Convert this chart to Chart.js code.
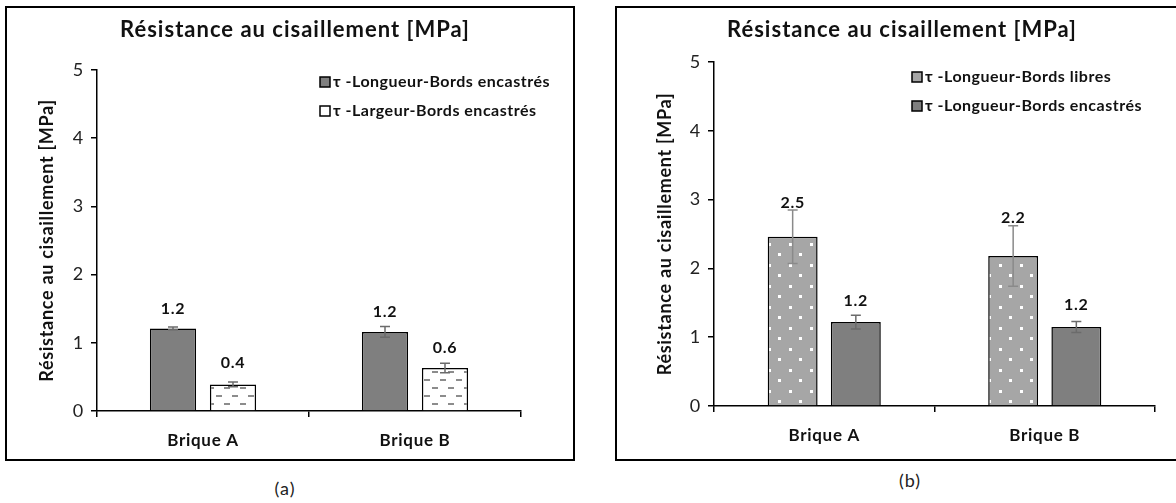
<!DOCTYPE html>
<html>
<head>
<meta charset="utf-8">
<script src="https://cdn.jsdelivr.net/npm/chart.js@4.4.1/dist/chart.umd.min.js"></script>
<style>
  html, body { margin: 0; padding: 0; background: #fff; width: 1176px; height: 503px; overflow: hidden; position: relative; }
  .box { position: absolute; border: 2px solid #000; }
  #boxA { left: 5px; top: 6px; width: 566px; height: 451px; }
  #boxB { left: 615px; top: 6px; width: 565px; height: 451px; }
  .cap { position: absolute; font: 18px Lato, sans-serif; color: #222; letter-spacing: 1px; transform: translate(-50%, -50%); }
</style>
</head>
<body>
<div class="box" id="boxA"><canvas id="chartA" width="566" height="451"></canvas></div>
<div class="box" id="boxB"><canvas id="chartB" width="565" height="451"></canvas></div>
<div class="cap" style="left:285px; top:488px;">(a)</div>
<div class="cap" style="left:910px; top:480px;">(b)</div>

<script>
// categories and tick labels
const categories = ["Brique A", "Brique B"];
const yTicks = [0, 1, 2, 3, 4, 5];

// chart (a)
const aLongEncastre = [1.21, 1.16];
const aLongEncastreErr = [0.02, 0.08];
const aLongEncastreLbl = ["1.2", "1.2"];
const aLargEncastre = [0.39, 0.63];
const aLargEncastreErr = [0.035, 0.07];
const aLargEncastreLbl = ["0.4", "0.6"];

// chart (b)
const bLongLibre = [2.46, 2.18];
const bLongLibreErr = [0.39, 0.44];
const bLongLibreLbl = ["2.5", "2.2"];
const bLongEncastre = [1.22, 1.15];
const bLongEncastreErr = [0.1, 0.08];
const bLongEncastreLbl = ["1.2", "1.2"];

const FONT = "Lato, 'Open Sans', sans-serif";
const DARK = "#7f7f7f";
const LIGHT = "#a6a6a6";

function dashPattern() {
  const c = document.createElement("canvas");
  c.width = 16; c.height = 16;
  const g = c.getContext("2d");
  g.fillStyle = "#fff"; g.fillRect(0, 0, 16, 16);
  g.fillStyle = "#8c8c8c";
  g.fillRect(1, 3, 6, 2);
  g.fillRect(9, 11, 6, 2);
  return g.createPattern(c, "repeat");
}

function dotPattern() {
  const c = document.createElement("canvas");
  c.width = 21; c.height = 21;
  const g = c.getContext("2d");
  g.fillStyle = LIGHT; g.fillRect(0, 0, 21, 21);
  g.fillStyle = "#fff";
  g.fillRect(4, 4, 3, 3);
  g.fillRect(14, 14, 3, 3);
  return g.createPattern(c, "repeat");
}

// a bit of letter spacing so Lato runs as wide as the original font
const spacing = {
  id: "spacing",
  beforeDraw(chart) { chart.ctx.letterSpacing = "0.7px"; },
  afterDraw(chart) { chart.ctx.letterSpacing = "0px"; }
};

// error bars + value labels drawn on top of the bars
const barExtras = {
  id: "barExtras",
  afterDatasetsDraw(chart) {
    const ctx = chart.ctx;
    const y = chart.scales.y;
    chart.data.datasets.forEach((ds, i) => {
      const meta = chart.getDatasetMeta(i);
      meta.data.forEach((bar, j) => {
        const v = ds.data[j], e = ds.errors[j];
        const yt = y.getPixelForValue(v + e), yb = y.getPixelForValue(v - e);
        ctx.save();
        ctx.strokeStyle = ds.errorColor;
        ctx.lineWidth = 1.5;
        ctx.beginPath();
        ctx.moveTo(bar.x, yt); ctx.lineTo(bar.x, yb);
        ctx.moveTo(bar.x - 5, yt); ctx.lineTo(bar.x + 5, yt);
        ctx.moveTo(bar.x - 5, yb); ctx.lineTo(bar.x + 5, yb);
        ctx.stroke();
        ctx.fillStyle = "#111";
        ctx.font = "bold 16px " + FONT;
        ctx.textAlign = "center";
        ctx.textBaseline = "middle";
        ctx.fillText(ds.valueLabels[j], bar.x, bar.y - ds.labelLift[j]);
        ctx.restore();
      });
    });
  }
};

// title and legend
const deco = {
  id: "deco",
  afterDraw(chart, args, o) {
    const ctx = chart.ctx;
    ctx.save();
    ctx.fillStyle = "#111";
    ctx.font = "bold 22px " + FONT;
    ctx.letterSpacing = "1px";
    ctx.textAlign = "center";
    ctx.textBaseline = "middle";
    ctx.fillText(o.title, o.titleX, o.titleY);
    ctx.font = "bold 16px " + FONT;
    ctx.letterSpacing = "0.5px";
    ctx.textAlign = "left";
    chart.data.datasets.forEach((ds, i) => {
      const ly = o.legendY + i * o.legendGap;
      ctx.fillStyle = ds.legendFill;
      ctx.fillRect(o.legendX, ly - 5, 10, 10);
      ctx.strokeStyle = "#000";
      ctx.lineWidth = 1.5;
      ctx.strokeRect(o.legendX, ly - 5, 10, 10);
      ctx.fillStyle = "#111";
      ctx.fillText(ds.label, o.legendX + 13, ly);
    });
    ctx.restore();
  }
};

function makeChart(id, datasets, geo) {
  return new Chart(document.getElementById(id), {
    type: "bar",
    data: { labels: categories, datasets: datasets },
    plugins: [spacing, barExtras, deco],
    options: {
      responsive: false,
      animation: false,
      events: [],
      layout: { padding: { top: geo.top, right: geo.right, left: 0, bottom: 0 } },
      datasets: { bar: { categoryPercentage: geo.catPct, barPercentage: geo.barPct } },
      scales: {
        x: {
          grid: { display: true, offset: true, drawOnChartArea: false, tickLength: 6, color: "#000", lineWidth: 1.5 },
          border: { color: "#000", width: 1.5 },
          ticks: { font: { family: FONT, size: 17, weight: "bold" }, color: "#111", padding: geo.xPad },
          afterFit(s) { s.height = geo.xH; }
        },
        y: {
          min: 0, max: 5,
          afterBuildTicks(s) { s.ticks = yTicks.map(v => ({ value: v })); },
          grid: { display: true, drawOnChartArea: false, tickLength: 6, color: "#000", lineWidth: 1.5 },
          border: { color: "#000", width: 1.5 },
          ticks: { font: { family: FONT, size: 18 }, color: "#222", padding: 7 },
          title: {
            display: true,
            text: "Résistance au cisaillement [MPa]",
            font: { family: FONT, size: 18, weight: "bold" },
            color: "#111",
            padding: { top: geo.yTitle, bottom: 0 }
          },
          afterFit(s) { s.width = geo.yW; }
        }
      },
      plugins: {
        legend: { display: false },
        tooltip: { enabled: false },
        deco: geo.deco
      }
    }
  });
}

makeChart("chartA", [
  {
    label: "τ -Longueur-Bords encastrés",
    data: aLongEncastre, errors: aLongEncastreErr, valueLabels: aLongEncastreLbl,
    labelLift: [20, 20], errorColor: "#6b6b6b",
    backgroundColor: DARK, legendFill: DARK, borderColor: "#000", borderWidth: 1.5
  },
  {
    label: "τ -Largeur-Bords encastrés",
    data: aLargEncastre, errors: aLargEncastreErr, valueLabels: aLargEncastreLbl,
    labelLift: [22, 20], errorColor: "#6b6b6b",
    backgroundColor: dashPattern(), legendFill: "#fff", borderColor: "#000", borderWidth: 1.5
  }
], {
  top: 62, right: 52, xH: 48, yW: 90, yTitle: 29, xPad: 13,
  catPct: 0.566, barPct: 0.77,
  deco: { title: "Résistance au cisaillement [MPa]", titleX: 288, titleY: 22, legendX: 313, legendY: 74, legendGap: 29 }
});

makeChart("chartB", [
  {
    label: "τ -Longueur-Bords libres",
    data: bLongLibre, errors: bLongLibreErr, valueLabels: bLongLibreLbl,
    labelLift: [34, 38], errorColor: "#8a8a8a",
    backgroundColor: dotPattern(), legendFill: LIGHT, borderColor: "#000", borderWidth: 1.5
  },
  {
    label: "τ -Longueur-Bords encastrés",
    data: bLongEncastre, errors: bLongEncastreErr, valueLabels: bLongEncastreLbl,
    labelLift: [21, 22], errorColor: "#6b6b6b",
    backgroundColor: DARK, legendFill: DARK, borderColor: "#000", borderWidth: 1.5
  }
], {
  top: 54, right: 27, xH: 53, yW: 97, yTitle: 37, xPad: 13,
  catPct: 0.573, barPct: 0.79,
  deco: { title: "Résistance au cisaillement [MPa]", titleX: 285, titleY: 22, legendX: 295, legendY: 69, legendGap: 29 }
});
</script>
</body>
</html>
